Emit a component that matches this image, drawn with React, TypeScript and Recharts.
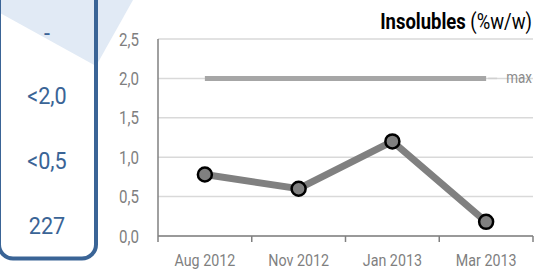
import { ComposedChart, Line, XAxis, YAxis, CartesianGrid } from 'recharts';

const months = ['Aug 2012', 'Nov 2012', 'Jan 2013', 'Mar 2013'];
const insolubles = [0.78, 0.6, 1.2, 0.18];
const maxLimit = [2, 2, 2, 2];
const yTicks = [0, 0.5, 1, 1.5, 2, 2.5];
const sideValues = ['-', '<2,0', '<0,5', '227'];
const sideRows = [32, 95, 160, 225];

const data = months.map((m, i) => ({ month: m, value: insolubles[i], max: maxLimit[i] }));

// no condensed font installed, so texts are squeezed horizontally
const FONT = 'Roboto, sans-serif';
const SQUEEZE = 0.84;
const W = 548;
const H = 272;
const PLOT_LEFT = 158;
const PLOT_RIGHT = 15;
const HALF_BAND = (W - PLOT_LEFT - PLOT_RIGHT) / months.length / 2;

const fmt = (v: number) => v.toFixed(1).replace('.', ',');

function Narrow({ x, y, anchor, size, fill, squeeze = SQUEEZE, children }: any) {
    return (
        <text
            transform={`translate(${x},${y}) scale(${squeeze},1)`}
            textAnchor={anchor}
            fill={fill}
            fontSize={size}
            fontFamily={FONT}
        >
            {children}
        </text>
    );
}

function MonthTick(props: any) {
    const { x, y, payload, index } = props;
    return (
        <g>
            <line x1={x - HALF_BAND} x2={x - HALF_BAND} y1={y} y2={y + 6} stroke="#808080" strokeWidth={1.5} />
            {index === months.length - 1 && (
                <line x1={x + HALF_BAND} x2={x + HALF_BAND} y1={y} y2={y + 6} stroke="#808080" strokeWidth={1.5} />
            )}
            <Narrow x={x} y={y + 30} anchor="middle" size={17} fill="#7f7f7f">
                {payload.value}
            </Narrow>
        </g>
    );
}

function ValueTick(props: any) {
    const { x, y, payload } = props;
    return (
        <Narrow x={x} y={y + 6.5} anchor="end" size={18} fill="#7f7f7f">
            {fmt(payload.value)}
        </Narrow>
    );
}

function MaxLabel(props: any) {
    const { x, y, index } = props;
    if (index !== months.length - 1) return null;
    return (
        <g>
            <line x1={x + 2} x2={x + 11} y1={y} y2={y} stroke="#d0d0d0" strokeWidth={1.5} />
            <Narrow x={x + 20} y={y + 5} anchor="start" size={16} fill="#8c8c8c">
                max
            </Narrow>
        </g>
    );
}

export default function App() {
    return (
        <div style={{ position: 'fixed', left: 0, top: 0, width: W, height: H, background: '#fff' }}>
            <svg width={W} height={H} style={{ position: 'absolute', left: 0, top: 0 }}>
                <polygon points="0,0 0,13 96,66 133,0" fill="#e1eaf5" />
                <rect x={-1} y={-20} width={97} height={278.5} rx={14} fill="none" stroke="#3a6496" strokeWidth={4} />
                {sideValues.map((v, i) => (
                    <Narrow key={v} x={47} y={sideRows[i] + 8.5} anchor="middle" size={24} fill="#3a6496" squeeze={0.9}>
                        {v}
                    </Narrow>
                ))}
                <Narrow x={532} y={29} anchor="end" size={22} fill="#000">
                    <tspan fontWeight="bold">Insolubles</tspan>
                    <tspan> (%w/w)</tspan>
                </Narrow>
            </svg>
            <div style={{ position: 'absolute', left: 0, top: 0 }}>
                <ComposedChart width={W} height={H} data={data} margin={{ top: 39, right: PLOT_RIGHT, bottom: 6, left: 118 }}>
                    <CartesianGrid vertical={false} stroke="#d9d9d9" strokeWidth={1.5} />
                    <XAxis
                        dataKey="month"
                        scale="band"
                        height={30}
                        stroke="#808080"
                        strokeWidth={1.5}
                        tickLine={false}
                        tickSize={0}
                        tickMargin={0}
                        tick={<MonthTick />}
                        interval={0}
                    />
                    <YAxis
                        width={40}
                        domain={[0, 2.5]}
                        ticks={yTicks}
                        stroke="#808080"
                        strokeWidth={1.5}
                        tickLine={false}
                        tickSize={0}
                        tickMargin={19}
                        tick={<ValueTick />}
                    />
                    <Line
                        dataKey="max"
                        stroke="#a6a6a6"
                        strokeWidth={5}
                        dot={false}
                        label={<MaxLabel />}
                        isAnimationActive={false}
                    />
                    <Line
                        dataKey="value"
                        stroke="#808080"
                        strokeWidth={7}
                        dot={{ r: 7, fill: '#808080', stroke: '#000', strokeWidth: 2.5 }}
                        isAnimationActive={false}
                    />
                </ComposedChart>
            </div>
        </div>
    );
}
